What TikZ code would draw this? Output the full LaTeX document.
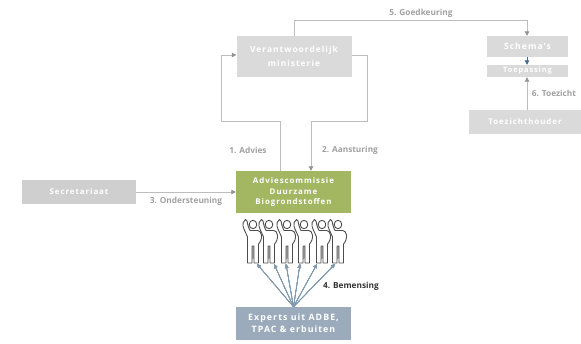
\documentclass[tikz,border=0pt]{standalone}
\usepackage{fontspec}
\setmainfont{Open Sans}
\newfontfamily\boxfont[LetterSpace=12]{Open Sans}
\usetikzlibrary{arrows.meta}
\definecolor{boxgrijs}{HTML}{DADADA}
\definecolor{secgrijs}{HTML}{CFCFCF}
\definecolor{lijngrijs}{HTML}{BDBDBD}
\definecolor{labelgrijs}{HTML}{A0A0A0}
\definecolor{advgroen}{HTML}{A3B763}
\definecolor{expblauw}{HTML}{9BABBC}
\definecolor{pijlblauw}{HTML}{7F99AF}
\definecolor{donkerblauw}{HTML}{3F6A94}
\tikzset{
  vak/.style={fill=#1,text=white,font=\boxfont\bfseries\fontsize{7.9}{10.5}\selectfont,align=center,inner sep=0pt,anchor=center},
  lijn/.style={draw=lijngrijs,line width=0.8pt,-{Triangle[length=4.5pt,width=4.5pt,color=gray!85]}},
  blauwlijn/.style={draw=pijlblauw,line width=0.55pt,-{Triangle[length=4pt,width=3.5pt]}},
  lab/.style={text=labelgrijs,font=\bfseries\fontsize{8.3}{10}\selectfont,inner sep=0pt}
}
\newcommand{\poppetje}[1]{%
  \begin{scope}[shift={(#1,0)}]
    \draw[line width=0.9pt,draw=black!70,line join=round,line cap=round]
      (0,224.5) circle (3.8 and 4.2)
      (-7.5,219.5) .. controls (-10,221) and (-10.5,224) .. (-10,226) .. controls (-9,230) and (-7,233) .. (-5.5,237)
      -- (-5.5,263) -- (-1,263) -- (-0.8,246) -- (0.8,246) -- (1,263) -- (5.5,263) -- (5.5,244)
      .. controls (7.5,242) and (9,238) .. (8.5,235) .. controls (8,232) and (6.5,230.5) .. (4.5,230.5)
      -- (-3,230.5) .. controls (-4.5,228) and (-5.5,224) .. (-6,221) .. controls (-6.3,219.5) and (-7,219.3) .. (-7.5,219.5);
  \end{scope}}
\begin{document}
\begin{tikzpicture}[x=1pt,y=-1pt]
  \useasboundingbox (0,0) rectangle (581,343);
  \node[vak=boxgrijs,minimum width=115,minimum height=41,font=\boxfont\bfseries\fontsize{8.4}{10.5}\selectfont] (ministerie) at (294,56.5) {Verantwoordelijk\\[3pt]ministerie};
  \node[vak=advgroen,minimum width=115,minimum height=42] (advies) at (293.5,192) {Adviescommissie\\Duurzame\\Biogrondstoffen};
  \node[vak=expblauw,minimum width=115,minimum height=33,font=\boxfont\bfseries\fontsize{8.8}{11}\selectfont] (experts) at (293.5,323.5) {Experts uit ADBE,\\[1pt]TPAC \& erbuiten};
  \node[vak=secgrijs,minimum width=114,minimum height=24] (secretariaat) at (79,192) {Secretariaat};
  \node[vak=boxgrijs,minimum width=81,minimum height=21,font=\boxfont\bfseries\fontsize{8.6}{10.5}\selectfont] (schema) at (527.5,46.5) {Schema's};
  \node[vak=boxgrijs,minimum width=81,minimum height=12,font=\boxfont\bfseries\fontsize{7.4}{10.5}\selectfont] (toepassing) at (527.5,71) {Toepassing};
  \node[vak=boxgrijs,minimum width=112,minimum height=24] (houder) at (525,122) {Toezichthouder};
  % lijnen
  \draw[lijn] (advies.north -| 280,0) -- (280,121.5) -- (221,121.5) -- (221,55) -- (ministerie.west |- 0,55);
  \draw[lijn] (ministerie.east |- 0,55) -- (367,55) -- (367,121.5) -- (311,121.5) -- (advies.north -| 311,0);
  \draw[lijn] (secretariaat.east) -- (advies.west);
  \draw[lijn] (ministerie.north) -- (294,20.5) -- (527,20.5) -- (schema.north -| 527,0);
  \draw[lijn] (houder.north -| 527,0) -- (toepassing.south -| 527,0);
  \draw[blauwlijn,draw=donkerblauw,line width=0.8pt,-{Triangle[length=4.5pt,width=4.5pt]}] (schema.south -| 527,0) -- (toepassing.north -| 527,0);
  % poppetjes
  \foreach \x in {253,269,287,304,322,338} \poppetje{\x}
  \foreach \x in {257,274,286,300,317,335} \draw[blauwlijn] (experts.north) -- (\x,264);
  % labels
  \node[lab] (l5) at (421,13.5) {5. Goedkeuring};
  \node[lab] (l1) at (248,150) {1. Advies};
  \node[lab] (l2) at (350,150) {2. Aansturing};
  \node[lab] (l3) at (186,201.5) {3. Ondersteuning};
  \node[lab,text=black!80] (l4) at (351,286) {4. Bemensing};
  \node[lab] (l6) at (554,93) {6. Toezicht};
\end{tikzpicture}
\end{document}
